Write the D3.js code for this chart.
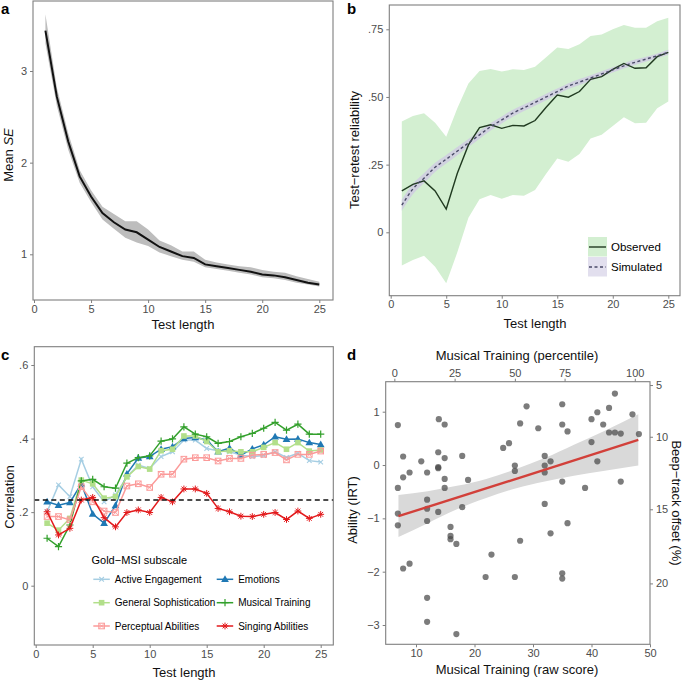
<!DOCTYPE html>
<html>
<head>
<meta charset="utf-8">
<script src="https://cdn.jsdelivr.net/npm/d3@7"></script>
<style>
body { margin: 0; background: #fff; }
text { font-family: "Liberation Sans", Arial, sans-serif; }
</style>
</head>
<body>
<svg id="fig" width="685" height="680"></svg>
<script>
// ---- data ----
var testLength = [ 1, 2, 3, 4, 5, 6, 7, 8, 9, 10, 11, 12, 13, 14, 15, 16, 17, 18, 19, 20, 21, 22, 23, 24, 25 ];

// a: mean SE by test length
var meanSE   = [ 3.44, 2.72, 2.23, 1.85, 1.63, 1.45, 1.35, 1.27, 1.24, 1.16, 1.08, 1.03, 0.98, 0.96, 0.89, 0.87, 0.85, 0.83, 0.81, 0.78, 0.77, 0.75, 0.72, 0.69, 0.67 ];
var meanSELo = [ 3.30, 2.62, 2.14, 1.78, 1.57, 1.38, 1.28, 1.18, 1.13, 1.09, 1.02, 0.98, 0.94, 0.92, 0.86, 0.84, 0.82, 0.80, 0.78, 0.75, 0.74, 0.72, 0.69, 0.67, 0.65 ];
var meanSEHi = [ 3.62, 2.82, 2.32, 1.92, 1.70, 1.52, 1.44, 1.36, 1.36, 1.27, 1.15, 1.10, 1.03, 1.03, 0.94, 0.91, 0.89, 0.87, 0.86, 0.83, 0.81, 0.80, 0.76, 0.73, 0.70 ];

// b: test-retest reliability
var observed   = [ 0.153, 0.177, 0.190, 0.153, 0.086, 0.218, 0.323, 0.387, 0.397, 0.384, 0.395, 0.393, 0.413, 0.462, 0.507, 0.499, 0.520, 0.565, 0.575, 0.602, 0.624, 0.606, 0.608, 0.649, 0.665 ];
var observedLo = [ -0.123, -0.102, -0.087, -0.127, -0.188, -0.074, 0.054, 0.122, 0.138, 0.124, 0.138, 0.135, 0.156, 0.216, 0.273, 0.261, 0.289, 0.347, 0.360, 0.393, 0.425, 0.403, 0.405, 0.458, 0.483 ];
var observedHi = [ 0.409, 0.430, 0.440, 0.405, 0.353, 0.458, 0.550, 0.596, 0.603, 0.594, 0.602, 0.600, 0.612, 0.647, 0.683, 0.677, 0.695, 0.725, 0.731, 0.750, 0.766, 0.756, 0.756, 0.780, 0.793 ];
var simulated  = [ 0.100, 0.160, 0.200, 0.240, 0.270, 0.300, 0.330, 0.360, 0.390, 0.415, 0.440, 0.460, 0.480, 0.500, 0.520, 0.540, 0.555, 0.570, 0.585, 0.600, 0.615, 0.628, 0.640, 0.652, 0.665 ];
var simulatedHalf = [ 0.020, 0.019, 0.018, 0.017, 0.016, 0.015, 0.015, 0.014, 0.014, 0.013, 0.013, 0.012, 0.012, 0.012, 0.011, 0.011, 0.011, 0.010, 0.010, 0.010, 0.010, 0.010, 0.009, 0.009, 0.009 ];

// c: correlation with Gold-MSI subscales
var subscales = [ 'Active Engagement', 'Emotions', 'General Sophistication', 'Musical Training', 'Perceptual Abilities', 'Singing Abilities' ];
var subColors = [ '#a6cee3', '#1f78b4', '#b2df8a', '#33a02c', '#fb9a99', '#e31a1c' ];
var subShapes = [ 'x', 'tri', 'sq', 'plus', 'sqx', 'ast' ];
var activeEngagement = [ 0.201, 0.274, 0.242, 0.344, 0.269, 0.228, 0.247, 0.296, 0.328, 0.319, 0.351, 0.364, 0.396, 0.396, 0.373, 0.367, 0.364, 0.355, 0.351, 0.354, 0.364, 0.349, 0.360, 0.340, 0.336 ];
var emotions         = [ 0.228, 0.219, 0.226, 0.277, 0.195, 0.170, 0.218, 0.304, 0.347, 0.351, 0.371, 0.378, 0.400, 0.403, 0.396, 0.364, 0.374, 0.355, 0.372, 0.383, 0.405, 0.398, 0.399, 0.389, 0.384 ];
var generalSoph      = [ 0.170, 0.151, 0.183, 0.287, 0.277, 0.238, 0.242, 0.296, 0.324, 0.317, 0.367, 0.371, 0.407, 0.407, 0.392, 0.364, 0.367, 0.364, 0.364, 0.376, 0.389, 0.371, 0.389, 0.366, 0.369 ];
var musicalTraining  = [ 0.129, 0.106, 0.165, 0.285, 0.289, 0.269, 0.265, 0.333, 0.348, 0.353, 0.393, 0.399, 0.432, 0.412, 0.405, 0.387, 0.392, 0.405, 0.414, 0.428, 0.444, 0.423, 0.439, 0.412, 0.412 ];
var perceptual       = [ 0.188, 0.188, 0.179, 0.269, 0.228, 0.203, 0.199, 0.271, 0.277, 0.267, 0.303, 0.303, 0.344, 0.348, 0.348, 0.339, 0.346, 0.346, 0.355, 0.357, 0.362, 0.342, 0.357, 0.357, 0.366 ];
var singing          = [ 0.201, 0.138, 0.156, 0.233, 0.240, 0.185, 0.160, 0.199, 0.206, 0.199, 0.240, 0.228, 0.263, 0.263, 0.251, 0.210, 0.201, 0.189, 0.188, 0.194, 0.199, 0.180, 0.203, 0.183, 0.194 ];
var subValues = [ activeEngagement, emotions, generalSoph, musicalTraining, perceptual, singing ];
var thresholdR = 0.233;

// d: ability vs musical training
var rawScore = [ 6.9, 13.9, 14.9, 7.8, 10.9, 13.8, 14.9, 17.9, 11.9, 8.9, 13.8, 13.8, 7.8, 14.9, 18.9, 6.9, 14.9, 11.9, 11.9, 13.8, 17.9, 6.9, 6.9, 11.9, 15.9, 15.9, 15.9, 16.9, 7.8, 8.9, 11.9, 11.9, 16.9, 21.9, 22.9, 24.9, 25.9, 26.9, 26.9, 26.9, 27.8, 27.8,
	28.9, 30.9, 35.0, 35.0, 35.9, 32.0, 32.0, 32.0, 33.0, 35.0, 32.0, 35.9, 33.0, 35.0, 35.0, 38.9, 40.0, 41.0, 40.0, 41.0, 42.0, 43.0, 44.0, 43.0, 44.0, 45.0, 45.0, 47.0, 48.1 ];
var ability  = [ 0.75, 0.86, 0.76, 0.16, 0.07, 0.24, 0.13, 0.17, -0.14, -0.14, -0.04, -0.06, -0.23, -0.26, -0.28, -0.43, -0.43, -0.65, -0.82, -0.88, -0.79, -0.91, -1.13, -1.05, -1.16, -1.33, -1.39, -1.48, -1.94, -1.85, -2.49, -2.94, -3.17, -2.10, -1.68, 0.32, 0.41, -0.01, -0.11, -2.10, 0.78, -1.42,
	1.10, 0.69, 1.14, 0.76, 0.63, 0.17, -0.01, -0.14, 0.07, -0.31, -0.73, -1.09, -1.28, -2.03, -2.13, -0.43, 0.86, 0.99, 0.43, 0.07, 0.76, 1.07, 1.34, 0.61, 0.61, 0.59, -0.31, 0.95, 0.58 ];
var fitX  = [ 7, 48 ];
var fitY  = [ -0.96, 0.47 ];
var bandX  = [ 7, 12, 17, 22, 27, 32, 37, 42, 48 ];
var bandLo = [ -1.35, -1.09, -0.83, -0.62, -0.44, -0.31, -0.20, -0.11, -0.01 ];
var bandHi = [ -0.56, -0.49, -0.39, -0.26, -0.08, 0.13, 0.38, 0.63, 0.95 ];
var pctLabels = [ 0, 25, 50, 75, 100 ];
var pctAtRaw  = [ 6.3, 16.6, 26.9, 35.4, 47.4 ];
var offsetLabels = [ 5, 10, 15, 20 ];
var offsetAtAbility = [ 1.50, 0.53, -0.83, -2.22 ];

// ---- helpers ----
var svg = d3.select( '#fig' );
var axCol = '#7f7f7f', tickCol = '#4d4d4d';

function frame( x0, y0, x1, y1 ) {
	svg.append( 'rect' )
		.attr( 'x', x0 ).attr( 'y', y0 )
		.attr( 'width', x1 - x0 ).attr( 'height', y1 - y0 )
		.attr( 'fill', 'none' ).attr( 'stroke', axCol ).attr( 'stroke-width', 1.1 );
}

function styleAxis( g ) {
	g.select( '.domain' ).remove();
	g.selectAll( '.tick line' ).attr( 'stroke', axCol );
	g.selectAll( '.tick text' ).attr( 'fill', tickCol )
		.style( 'font-size', '11px' ).style( 'font-family', '"Liberation Sans", Arial, sans-serif' );
}

function title( txt, x, y, rot, anchor ) {
	var t = svg.append( 'text' )
		.attr( 'transform', 'translate(' + x + ',' + y + ')' + ( rot ? ' rotate(' + rot + ')' : '' ) )
		.attr( 'text-anchor', anchor || 'middle' )
		.style( 'font-size', '13px' ).attr( 'fill', '#111' );
	return t.text( txt );
}

function panelLabel( txt, x, y ) {
	svg.append( 'text' ).attr( 'x', x ).attr( 'y', y )
		.style( 'font-size', '15px' ).style( 'font-weight', 'bold' ).text( txt );
}

function fmtDot( d ) { return d === 0 ? '0' : d3.format( '.2f' )( d ).replace( /^0/, '' ); }

// ---- panel a ----
var xa = d3.scaleLinear().domain( [ 0, 25 ] ).range( [ 34, 319.3 ] );
var ya = d3.scaleLinear().domain( [ 1, 3 ] ).range( [ 254.3, 71 ] );
svg.append( 'path' )
	.attr( 'd', d3.area().x( function( d, i ) { return xa( testLength[ i ] ); } )
		.y0( function( d, i ) { return ya( meanSELo[ i ] ); } )
		.y1( function( d, i ) { return ya( meanSEHi[ i ] ); } )( meanSE ) )
	.attr( 'fill', '#bdbdbd' );
svg.append( 'path' )
	.attr( 'd', d3.line().x( function( d, i ) { return xa( testLength[ i ] ); } ).y( function( d ) { return ya( d ); } )( meanSE ) )
	.attr( 'fill', 'none' ).attr( 'stroke', '#111' ).attr( 'stroke-width', 2 );
frame( 33, 1, 333, 300 );
svg.append( 'g' ).attr( 'transform', 'translate(0,300)' )
	.call( d3.axisBottom( xa ).tickValues( [ 0, 5, 10, 15, 20, 25 ] ).tickSize( 3 ).tickPadding( 2 ) ).call( styleAxis );
svg.append( 'g' ).attr( 'transform', 'translate(33,0)' )
	.call( d3.axisLeft( ya ).tickValues( [ 1, 2, 3 ] ).tickFormat( d3.format( 'd' ) ).tickSize( 3 ).tickPadding( 3 ) ).call( styleAxis );
var tA = title( 'Mean ', 13, 155, -90 );
tA.append( 'tspan' ).style( 'font-style', 'italic' ).text( 'SE' );
title( 'Test length', 183, 329 );
panelLabel( 'a', 1, 14 );

// ---- panel b ----
var xb = d3.scaleLinear().domain( [ 0, 25 ] ).range( [ 390.7, 668.3 ] );
var yb = d3.scaleLinear().domain( [ 0, 0.75 ] ).range( [ 232.3, 29.3 ] );
svg.append( 'path' )
	.attr( 'd', d3.area().x( function( d, i ) { return xb( testLength[ i ] ); } )
		.y0( function( d, i ) { return yb( observedLo[ i ] ); } )
		.y1( function( d, i ) { return yb( observedHi[ i ] ); } )( observed ) )
	.attr( 'fill', '#d3efd1' );
svg.append( 'path' )
	.attr( 'd', d3.area().x( function( d, i ) { return xb( testLength[ i ] ); } )
		.y0( function( d, i ) { return yb( d - simulatedHalf[ i ] ); } )
		.y1( function( d, i ) { return yb( d + simulatedHalf[ i ] ); } ).curve( d3.curveMonotoneX )( simulated ) )
	.attr( 'fill', '#cfcbe2' ).attr( 'opacity', 0.85 );
svg.append( 'path' )
	.attr( 'd', d3.line().x( function( d, i ) { return xb( testLength[ i ] ); } ).y( function( d ) { return yb( d ); } )( observed ) )
	.attr( 'fill', 'none' ).attr( 'stroke', '#203a20' ).attr( 'stroke-width', 1.4 );
svg.append( 'path' )
	.attr( 'd', d3.line().x( function( d, i ) { return xb( testLength[ i ] ); } ).y( function( d ) { return yb( d ); } ).curve( d3.curveMonotoneX )( simulated ) )
	.attr( 'fill', 'none' ).attr( 'stroke', '#4a4a68' ).attr( 'stroke-width', 1.4 ).attr( 'stroke-dasharray', '3,2.5' );
frame( 389.3, 5, 680, 295.7 );
svg.append( 'g' ).attr( 'transform', 'translate(0,295.7)' )
	.call( d3.axisBottom( xb ).tickValues( [ 0, 5, 10, 15, 20, 25 ] ).tickSize( 3 ).tickPadding( 2 ) ).call( styleAxis );
svg.append( 'g' ).attr( 'transform', 'translate(389.3,0)' )
	.call( d3.axisLeft( yb ).tickValues( [ 0, 0.25, 0.5, 0.75 ] ).tickFormat( fmtDot ).tickSize( 3 ).tickPadding( 3 ) ).call( styleAxis );
title( 'Test\u2212retest reliability', 359, 150, -90 );
title( 'Test length', 535, 328 );
panelLabel( 'b', 347, 14 );

// legend b
var lgB = svg.append( 'g' ).attr( 'transform', 'translate(588,237)' );
lgB.append( 'rect' ).attr( 'width', 19 ).attr( 'height', 19.5 ).attr( 'fill', '#d3efd1' );
lgB.append( 'rect' ).attr( 'y', 20 ).attr( 'width', 19 ).attr( 'height', 19.5 ).attr( 'fill', '#e2dfee' );
lgB.append( 'line' ).attr( 'x1', 1 ).attr( 'x2', 18 ).attr( 'y1', 10 ).attr( 'y2', 10 ).attr( 'stroke', '#203a20' ).attr( 'stroke-width', 1.4 );
lgB.append( 'line' ).attr( 'x1', 1 ).attr( 'x2', 18 ).attr( 'y1', 30 ).attr( 'y2', 30 ).attr( 'stroke', '#4a4a68' ).attr( 'stroke-width', 1.4 ).attr( 'stroke-dasharray', '3,2.5' );
lgB.append( 'text' ).attr( 'x', 23 ).attr( 'y', 14 ).style( 'font-size', '11.5px' ).text( 'Observed' );
lgB.append( 'text' ).attr( 'x', 23 ).attr( 'y', 34 ).style( 'font-size', '11.5px' ).text( 'Simulated' );

// ---- panel c ----
var xc = d3.scaleLinear().domain( [ 0, 25 ] ).range( [ 35.7, 320.7 ] );
var yc = d3.scaleLinear().domain( [ 0, 0.6 ] ).range( [ 585.7, 365 ] );

function marker( g, shape, cx, cy, col ) {
	if ( shape === 'x' ) {
		g.append( 'path' ).attr( 'd', 'M' + ( cx - 2.3 ) + ',' + ( cy - 2.3 ) + 'L' + ( cx + 2.3 ) + ',' + ( cy + 2.3 ) + 'M' + ( cx - 2.3 ) + ',' + ( cy + 2.3 ) + 'L' + ( cx + 2.3 ) + ',' + ( cy - 2.3 ) )
			.attr( 'stroke', col ).attr( 'stroke-width', 1.1 );
	} else if ( shape === 'tri' ) {
		g.append( 'path' ).attr( 'd', d3.symbol( d3.symbolTriangle, 26 )() ).attr( 'transform', 'translate(' + cx + ',' + ( cy + 0.5 ) + ')' ).attr( 'fill', col );
	} else if ( shape === 'sq' ) {
		g.append( 'rect' ).attr( 'x', cx - 2.8 ).attr( 'y', cy - 2.8 ).attr( 'width', 5.6 ).attr( 'height', 5.6 ).attr( 'fill', col );
	} else if ( shape === 'plus' ) {
		g.append( 'path' ).attr( 'd', 'M' + ( cx - 3.6 ) + ',' + cy + 'H' + ( cx + 3.6 ) + 'M' + cx + ',' + ( cy - 3.6 ) + 'V' + ( cy + 3.6 ) )
			.attr( 'stroke', col ).attr( 'stroke-width', 1.2 );
	} else if ( shape === 'sqx' ) {
		g.append( 'rect' ).attr( 'x', cx - 2.8 ).attr( 'y', cy - 2.8 ).attr( 'width', 5.6 ).attr( 'height', 5.6 ).attr( 'fill', 'none' ).attr( 'stroke', col ).attr( 'stroke-width', 1 );
		g.append( 'path' ).attr( 'd', 'M' + ( cx - 2.8 ) + ',' + ( cy - 2.8 ) + 'L' + ( cx + 2.8 ) + ',' + ( cy + 2.8 ) + 'M' + ( cx - 2.8 ) + ',' + ( cy + 2.8 ) + 'L' + ( cx + 2.8 ) + ',' + ( cy - 2.8 ) )
			.attr( 'stroke', col ).attr( 'stroke-width', 0.8 );
	} else if ( shape === 'ast' ) {
		var r = 3.4, s = 2.4;
		g.append( 'path' ).attr( 'd', 'M' + ( cx - r ) + ',' + cy + 'H' + ( cx + r ) + 'M' + cx + ',' + ( cy - r ) + 'V' + ( cy + r ) +
			'M' + ( cx - s ) + ',' + ( cy - s ) + 'L' + ( cx + s ) + ',' + ( cy + s ) + 'M' + ( cx - s ) + ',' + ( cy + s ) + 'L' + ( cx + s ) + ',' + ( cy - s ) )
			.attr( 'stroke', col ).attr( 'stroke-width', 1 );
	}
}

var gc = svg.append( 'g' );
subValues.forEach( function( vals, k ) {
	gc.append( 'path' )
		.attr( 'd', d3.line().x( function( d, i ) { return xc( testLength[ i ] ); } ).y( function( d ) { return yc( d ); } )( vals ) )
		.attr( 'fill', 'none' ).attr( 'stroke', subColors[ k ] ).attr( 'stroke-width', 1.5 );
	vals.forEach( function( v, i ) { marker( gc, subShapes[ k ], xc( testLength[ i ] ), yc( v ), subColors[ k ] ); } );
} );
svg.append( 'line' ).attr( 'x1', 34.3 ).attr( 'x2', 333.3 ).attr( 'y1', yc( thresholdR ) ).attr( 'y2', yc( thresholdR ) )
	.attr( 'stroke', '#111' ).attr( 'stroke-width', 1.3 ).attr( 'stroke-dasharray', '5,3.5' );
frame( 34.3, 346.7, 333.3, 645 );
svg.append( 'g' ).attr( 'transform', 'translate(0,645)' )
	.call( d3.axisBottom( xc ).tickValues( [ 0, 5, 10, 15, 20, 25 ] ).tickSize( 3 ).tickPadding( 2 ) ).call( styleAxis );
svg.append( 'g' ).attr( 'transform', 'translate(34.3,0)' )
	.call( d3.axisLeft( yc ).tickValues( [ 0, 0.2, 0.4, 0.6 ] ).tickFormat( function( d ) { return d === 0 ? '0' : d3.format( '.1f' )( d ).replace( /^0/, '' ); } ).tickSize( 3 ).tickPadding( 3 ) ).call( styleAxis );
title( 'Correlation', 14, 497, -90 );
title( 'Test length', 184, 677 );
panelLabel( 'c', 1, 360 );

// legend c
svg.append( 'text' ).attr( 'x', 91.5 ).attr( 'y', 564 ).style( 'font-size', '11px' ).text( 'Gold\u2212MSI subscale' );
var lgX = [ 93.3, 216.7 ], lgY = [ 579.3, 602.7, 626 ];
subscales.forEach( function( name, k ) {
	var col = k % 2, row = Math.floor( k / 2 );
	var g = svg.append( 'g' );
	g.append( 'line' ).attr( 'x1', lgX[ col ] ).attr( 'x2', lgX[ col ] + 16.5 ).attr( 'y1', lgY[ row ] ).attr( 'y2', lgY[ row ] )
		.attr( 'stroke', subColors[ k ] ).attr( 'stroke-width', 1.5 );
	marker( g, subShapes[ k ], lgX[ col ] + 8.3, lgY[ row ], subColors[ k ] );
	g.append( 'text' ).attr( 'x', lgX[ col ] + 21.5 ).attr( 'y', lgY[ row ] + 3.7 ).style( 'font-size', '10px' ).text( name );
} );

// ---- panel d ----
var xd = d3.scaleLinear().domain( [ 10, 50 ] ).range( [ 416, 650 ] );
var yd = d3.scaleLinear().domain( [ -3, 1 ] ).range( [ 625, 411.7 ] );
svg.append( 'path' )
	.attr( 'd', d3.area().x( function( d, i ) { return xd( d ); } )
		.y0( function( d, i ) { return yd( bandLo[ i ] ); } )
		.y1( function( d, i ) { return yd( bandHi[ i ] ); } ).curve( d3.curveMonotoneX )( bandX ) )
	.attr( 'fill', '#d9d9d9' );
svg.append( 'g' ).selectAll( 'circle' ).data( rawScore ).enter().append( 'circle' )
	.attr( 'cx', function( d ) { return xd( d ); } )
	.attr( 'cy', function( d, i ) { return yd( ability[ i ] ); } )
	.attr( 'r', 3.1 ).attr( 'fill', '#4a4a4a' ).attr( 'opacity', 0.72 );
svg.append( 'path' )
	.attr( 'd', d3.line().x( function( d ) { return xd( d ); } ).y( function( d, i ) { return yd( fitY[ i ] ); } )( fitX ) )
	.attr( 'stroke', '#d2403a' ).attr( 'stroke-width', 2.4 ).attr( 'fill', 'none' );
frame( 385.7, 381.7, 650, 644.3 );
svg.append( 'g' ).attr( 'transform', 'translate(0,644.3)' )
	.call( d3.axisBottom( xd ).tickValues( [ 10, 20, 30, 40, 50 ] ).tickSize( 3 ).tickPadding( 2 ) ).call( styleAxis );
svg.append( 'g' ).attr( 'transform', 'translate(385.7,0)' )
	.call( d3.axisLeft( yd ).tickValues( [ -3, -2, -1, 0, 1 ] ).tickFormat( function( d ) { return d < 0 ? '\u2212' + Math.abs( d ) : d; } ).tickSize( 3 ).tickPadding( 3 ) ).call( styleAxis );
svg.append( 'g' ).attr( 'transform', 'translate(0,381.7)' )
	.call( d3.axisTop( xd ).tickValues( pctAtRaw ).tickFormat( function( d, i ) { return pctLabels[ i ]; } ).tickSize( 3 ).tickPadding( 2 ) ).call( styleAxis );
svg.append( 'g' ).attr( 'transform', 'translate(650,0)' )
	.call( d3.axisRight( yd ).tickValues( offsetAtAbility ).tickFormat( function( d, i ) { return offsetLabels[ i ]; } ).tickSize( 3 ).tickPadding( 3 ) ).call( styleAxis );
title( 'Ability (IRT)', 357, 510, -90 );
title( 'Musical Training (raw score)', 517, 674 );
title( 'Musical Training (percentile)', 517, 360 );
title( 'Beep\u2212track offset (%)', 672, 503, 90 );
panelLabel( 'd', 347, 360 );
</script>
</body>
</html>
